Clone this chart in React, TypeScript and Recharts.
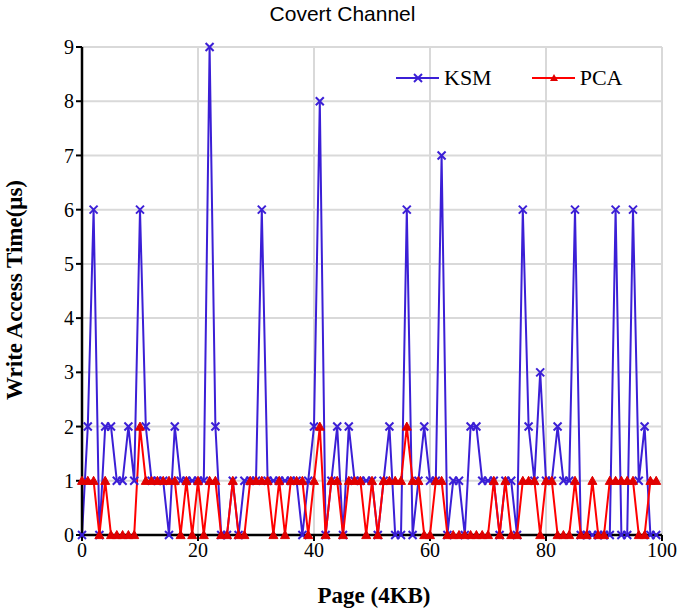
import React from "react";
import { LineChart, Line, XAxis, YAxis, CartesianGrid } from "recharts";

// write access time per page (µs)
const KSM = [
  0, 2, 6, 0, 2, 2, 1, 1, 2, 1,
  6, 2, 1, 1, 1, 0, 2, 1, 1, 1,
  1, 1, 9, 2, 0, 0, 1, 0, 1, 1,
  1, 6, 1, 1, 1, 1, 1, 1, 0, 1,
  2, 8, 0, 1, 2, 0, 2, 1, 1, 1,
  1, 0, 1, 2, 0, 0, 6, 0, 1, 2,
  1, 1, 7, 0, 1, 1, 0, 2, 2, 1,
  1, 1, 0, 1, 1, 0, 6, 2, 1, 3,
  1, 1, 2, 1, 1, 6, 0, 0, 0, 0,
  0, 0, 6, 0, 0, 6, 1, 2, 0, 0,
];

const PCA = [
  1, 1, 1, 0, 1, 0, 0, 0, 0, 0,
  2, 1, 1, 1, 1, 1, 1, 0, 1, 0,
  1, 0, 1, 1, 0, 0, 1, 0, 0, 1,
  1, 1, 1, 0, 1, 0, 1, 1, 1, 0,
  1, 2, 0, 1, 1, 0, 1, 1, 1, 0,
  1, 0, 1, 1, 1, 1, 2, 1, 1, 0,
  0, 1, 1, 0, 0, 0, 0, 0, 0, 0,
  0, 1, 0, 1, 0, 0, 1, 1, 1, 0,
  1, 1, 0, 0, 0, 1, 0, 0, 1, 0,
  0, 1, 1, 1, 1, 1, 0, 0, 1, 1,
];

const X_TICKS = [0, 20, 40, 60, 80, 100];
const Y_TICKS = [0, 1, 2, 3, 4, 5, 6, 7, 8, 9];

const BLUE = "#3b1fd6";
const RED = "#ff0000";
const SERIF = "'Liberation Serif', 'Times New Roman', serif";

const data = KSM.map((v, i) => ({ page: i, ksm: v, pca: PCA[i] }));

function CrossDot(props: any) {
  const { cx, cy } = props;
  if (cx == null || cy == null) return null;
  const s = 4;
  return (
    <g stroke={BLUE} strokeWidth={2}>
      <line x1={cx - s} y1={cy - s} x2={cx + s} y2={cy + s} />
      <line x1={cx - s} y1={cy + s} x2={cx + s} y2={cy - s} />
    </g>
  );
}

function TriangleDot(props: any) {
  const { cx, cy } = props;
  if (cx == null || cy == null) return null;
  const s = 4.5;
  return (
    <polygon
      points={`${cx},${cy - s} ${cx + s},${cy + s * 0.8} ${cx - s},${cy + s * 0.8}`}
      fill="#e00000"
      stroke="#e00000"
      strokeWidth={1}
    />
  );
}

function ChartLegend() {
  const items = [
    { name: "KSM", color: BLUE, marker: "x" },
    { name: "PCA", color: RED, marker: "tri" },
  ];
  return (
    <div
      style={{
        position: "absolute",
        left: 396,
        top: 64,
        display: "flex",
        gap: 40,
        fontFamily: SERIF,
        fontSize: 22,
        lineHeight: "28px",
      }}
    >
      {items.map((it) => (
        <div key={it.name} style={{ display: "flex", alignItems: "center" }}>
          <svg width={43} height={16}>
            <line x1={0} y1={8} x2={43} y2={8} stroke={it.color} strokeWidth={2} />
            {it.marker === "x" ? (
              <g stroke={BLUE} strokeWidth={2}>
                <line x1={18} y1={4} x2={26} y2={12} />
                <line x1={18} y1={12} x2={26} y2={4} />
              </g>
            ) : (
              <polygon points="22,4 26,11 18,11" fill="#e00000" />
            )}
          </svg>
          <span style={{ marginLeft: 5, color: "#000" }}>{it.name}</span>
        </div>
      ))}
    </div>
  );
}

export default function App() {
  return (
    <div
      style={{
        position: "absolute",
        left: 0,
        top: 0,
        width: 685,
        height: 610,
        background: "#fff",
      }}
    >
      <div
        style={{
          position: "absolute",
          top: 2,
          left: 0,
          width: 685,
          textAlign: "center",
          fontFamily: "'Liberation Sans', Arial, sans-serif",
          fontSize: 21,
          color: "#000",
        }}
      >
        Covert Channel
      </div>
      <div
        style={{
          position: "absolute",
          left: 15,
          top: 290,
          transform: "translate(-50%, -50%) rotate(-90deg)",
          whiteSpace: "nowrap",
          fontFamily: SERIF,
          fontWeight: "bold",
          fontSize: 23,
          color: "#000",
        }}
      >
        Write Access Time(μs)
      </div>
      <div
        style={{
          position: "absolute",
          left: 374,
          top: 596,
          transform: "translate(-50%, -50%)",
          whiteSpace: "nowrap",
          fontFamily: SERIF,
          fontWeight: "bold",
          fontSize: 23,
          color: "#000",
        }}
      >
        Page (4KB)
      </div>
      <LineChart
        width={685}
        height={610}
        data={data}
        margin={{ top: 47, right: 23, bottom: 35, left: 37 }}
      >
        <CartesianGrid stroke="#d9d9d9" strokeWidth={2} />
        <XAxis
          type="number"
          dataKey="page"
          domain={[0, 100]}
          ticks={X_TICKS}
          height={40}
          tickSize={6}
          tick={{ fontSize: 20, fill: "#000", fontFamily: SERIF }}
          axisLine={{ stroke: "#000", strokeWidth: 2.5 }}
          tickLine={{ stroke: "#000", strokeWidth: 2 }}
        />
        <YAxis
          type="number"
          domain={[0, 9]}
          ticks={Y_TICKS}
          width={45}
          tickSize={6}
          tick={{ fontSize: 20, fill: "#000", fontFamily: SERIF }}
          axisLine={{ stroke: "#000", strokeWidth: 2.5 }}
          tickLine={{ stroke: "#000", strokeWidth: 2 }}
        />
        <Line
          dataKey="ksm"
          name="KSM"
          type="linear"
          stroke={BLUE}
          strokeWidth={2}
          dot={<CrossDot />}
          isAnimationActive={false}
        />
        <Line
          dataKey="pca"
          name="PCA"
          type="linear"
          stroke={RED}
          strokeWidth={2}
          dot={<TriangleDot />}
          isAnimationActive={false}
        />
      </LineChart>
      <ChartLegend />
    </div>
  );
}
